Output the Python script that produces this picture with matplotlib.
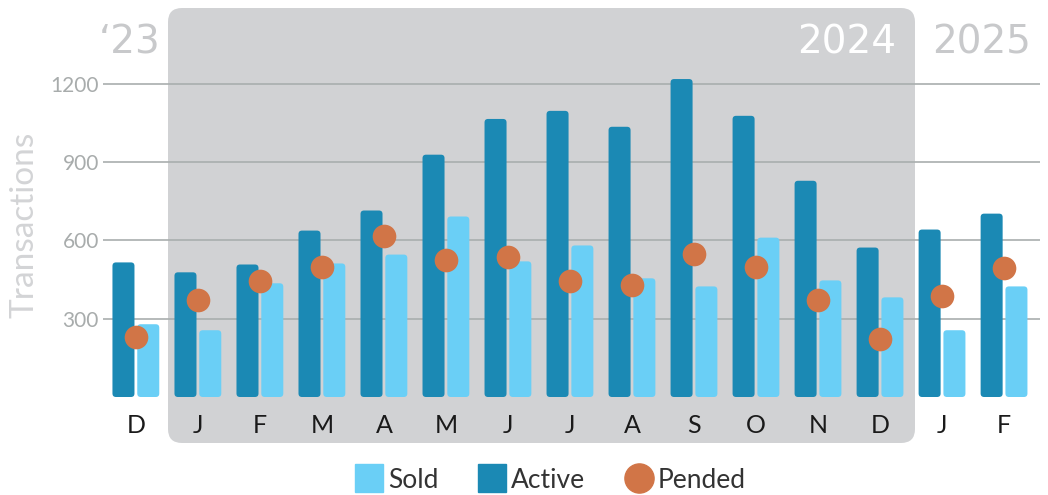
import matplotlib
matplotlib.use("Agg")
import matplotlib.pyplot as plt
from matplotlib.patches import FancyBboxPatch
from matplotlib.lines import Line2D
from matplotlib.transforms import IdentityTransform

# data
months = ['D', 'J', 'F', 'M', 'A', 'M', 'J', 'J', 'A', 'S', 'O', 'N', 'D', 'J', 'F']
active = [516, 478, 508, 638, 715, 929, 1066, 1097, 1036, 1219, 1078, 829, 573, 642, 703]
sold = [279, 256, 436, 512, 546, 692, 520, 581, 455, 424, 611, 447, 382, 256, 424]
pended = [229, 371, 443, 500, 619, 527, 535, 443, 428, 550, 500, 371, 222, 386, 493]

c_active = '#1b89b4'
c_sold = '#6acff6'
c_pend = '#d17547'
c_grid = '#a9aeae'
c_light = '#a8acac'

plt.rcParams['font.family'] = ['Lato', 'DejaVu Sans']

W, H = 1048, 495
fig = plt.figure(figsize=(W / 100, H / 100), dpi=100)

ax = fig.add_axes([103 / W, 1 - 397 / H, (1040 - 103) / W, 337 / H])
ax.patch.set_alpha(0)
ax.set_xlim(-0.53, 14.58)
ax.set_ylim(0, 1292)

# gray band behind 2024 (pixel coords, origin bottom-left)
band = FancyBboxPatch((168, H - 443), 915 - 168, 443 - 8,
                      boxstyle='round,pad=0,rounding_size=14',
                      transform=IdentityTransform(), facecolor='#d1d2d4',
                      edgecolor='none', zorder=0, clip_on=False)
ax.add_patch(band)

x = range(len(months))
bw = 0.355
off = 0.2

# rounded bars: aspect so corners look circular
px_x = (1040 - 103) / (14.58 + 0.53)
px_y = 337 / 1292
asp = px_x / px_y
r = 3.5 / px_x
for i in x:
    for val, dx, col in [(active[i], -off, c_active), (sold[i], off, c_sold)]:
        p = FancyBboxPatch((i + dx - bw / 2, 0), bw, val,
                           boxstyle=f'round,pad=0,rounding_size={r}',
                           mutation_aspect=asp, facecolor=col,
                           edgecolor='none', zorder=2)
        ax.add_patch(p)

ax.scatter(list(x), pended, s=290, color=c_pend, zorder=3, linewidths=0)

ax.set_yticks([300, 600, 900, 1200])
ax.set_yticklabels(['300', '600', '900', '1200'])
ax.yaxis.grid(True, color=c_grid, linewidth=1.2, zorder=1)
ax.set_axisbelow(True)
ax.set_xticks(list(x))
ax.set_xticklabels(months)
ax.tick_params(axis='x', length=0, pad=12, labelsize=18, labelcolor='#1a1a1a')
ax.tick_params(axis='y', length=0, pad=3, labelsize=15, labelcolor=c_light)
for s in ax.spines.values():
    s.set_visible(False)

fig.text(25 / W, 1 - 225 / H, 'Transactions', rotation=90, ha='center',
         va='center', fontsize=24, color='#d3d4d6')

# year labels
yfont = ['DejaVu Sans']
fig.text(160 / W, 1 - 42 / H, '\u201823', ha='right', va='center',
         fontsize=28, color='#c8c9cb', family=yfont)
fig.text(896 / W, 1 - 42 / H, '2024', ha='right', va='center',
         fontsize=28, color='white', family=yfont)
fig.text(1031 / W, 1 - 42 / H, '2025', ha='right', va='center',
         fontsize=28, color='#c8c9cb', family=yfont)

handles = [Line2D([], [], marker='s', ls='none', markersize=20, color=c_sold),
           Line2D([], [], marker='s', ls='none', markersize=20, color=c_active),
           Line2D([], [], marker='o', ls='none', markersize=21, color=c_pend)]
fig.legend(handles, ['Sold', 'Active', 'Pended'], loc='center',
           bbox_to_anchor=(550 / W, 1 - 480 / H), ncol=3, frameon=False,
           fontsize=19, handlelength=1.1, handletextpad=0.15,
           columnspacing=1.5, labelcolor='#333333')

fig.savefig('out.png', dpi=100)
